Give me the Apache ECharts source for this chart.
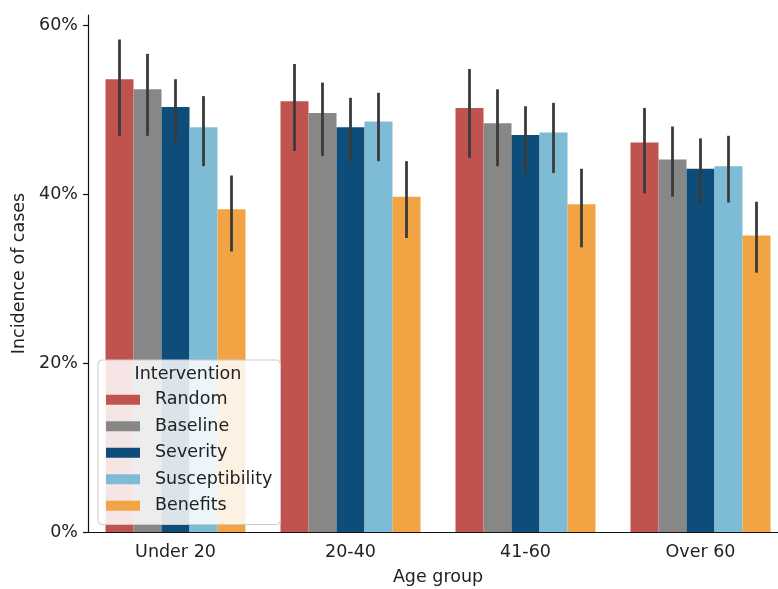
<!DOCTYPE html>
<html>
<head>
<meta charset="utf-8">
<script src="https://cdn.jsdelivr.net/npm/echarts@6/dist/echarts.min.js"></script>
<style>
  html, body { margin: 0; padding: 0; background: #fff; }
  #chart { width: 778px; height: 589px; }
</style>
</head>
<body>
<div id="chart"></div>
<script>
// Age groups on the x axis
const categories = ['Under 20', '20-40', '41-60', 'Over 60'];
// Intervention strategies (hue)
const interventions = ['Random', 'Baseline', 'Severity', 'Susceptibility', 'Benefits'];

// Mean incidence (%) per age group
const meanRandom = [53.6, 51.0, 50.2, 46.1];
const meanBaseline = [52.4, 49.6, 48.4, 44.1];
const meanSeverity = [50.3, 47.9, 47.0, 43.0];
const meanSusceptibility = [47.9, 48.6, 47.3, 43.3];
const meanBenefits = [38.2, 39.7, 38.8, 35.1];

// Confidence interval bounds (%)
const lowRandom = [46.9, 45.1, 44.3, 40.1];
const highRandom = [58.3, 55.4, 54.8, 50.2];
const lowBaseline = [46.9, 44.5, 43.3, 39.7];
const highBaseline = [56.6, 53.2, 52.4, 48.0];
const lowSeverity = [46.2, 43.8, 42.4, 38.8];
const highSeverity = [53.6, 51.4, 50.4, 46.6];
const lowSusceptibility = [43.3, 43.9, 42.5, 39.0];
const highSusceptibility = [51.6, 52.0, 50.8, 46.9];
const lowBenefits = [33.2, 34.8, 33.7, 30.7];
const highBenefits = [42.2, 43.9, 43.0, 39.1];

// Y axis tick values
const yTicks = [0, 20, 40, 60];

const colors = ['#c1534f', '#878787', '#0e4d79', '#7ebcd6', '#f2a444'];
const means = [meanRandom, meanBaseline, meanSeverity, meanSusceptibility, meanBenefits];
const lows = [lowRandom, lowBaseline, lowSeverity, lowSusceptibility, lowBenefits];
const highs = [highRandom, highBaseline, highSeverity, highSusceptibility, highBenefits];

const FONT = 'DejaVu Sans';
const FS = 17.5;

const barSeries = interventions.map((name, k) => ({
  name: name,
  type: 'bar',
  data: means[k],
  barGap: '0%',
  barCategoryGap: '20%',
  itemStyle: { color: colors[k] },
  z: 2
}));

// Vertical confidence-interval whiskers centred on each bar
const errSeries = interventions.map((name, k) => ({
  name: 'ci-' + name,
  type: 'custom',
  data: categories.map((c, i) => [i, lows[k][i], highs[k][i]]),
  encode: { x: 0, y: [1, 2] },
  z: 5,
  silent: true,
  renderItem: function (params, api) {
    const band = api.size([1, 0])[0];
    const offset = (k - 2) * band * 0.16;
    const p0 = api.coord([api.value(0), api.value(1)]);
    const p1 = api.coord([api.value(0), api.value(2)]);
    return {
      type: 'line',
      shape: { x1: p0[0] + offset, y1: p0[1], x2: p1[0] + offset, y2: p1[1] },
      style: { stroke: '#3a3a3a', lineWidth: 2.8 }
    };
  }
}));

const chart = echarts.init(document.getElementById('chart'), null, { renderer: 'canvas' });
chart.setOption({
  animation: false,
  backgroundColor: '#ffffff',
  textStyle: { fontFamily: FONT },
  grid: { left: 88, top: 15, width: 700, height: 517, containLabel: false, outerBoundsMode: 'none' },
  xAxis: {
    type: 'category',
    data: categories,
    name: 'Age group',
    nameLocation: 'middle',
    nameGap: 36,
    nameTextStyle: { fontFamily: FONT, fontSize: FS, color: '#222' },
    axisLine: { lineStyle: { color: '#111', width: 1.2 } },
    axisTick: { alignWithLabel: true, length: 5, lineStyle: { color: '#111', width: 1.2 } },
    axisLabel: { fontFamily: FONT, fontSize: FS, color: '#222', margin: 11 },
    splitLine: { show: false }
  },
  yAxis: {
    type: 'value',
    min: 0,
    max: 61.2,
    name: 'Incidence of cases',
    nameLocation: 'middle',
    nameGap: 60,
    nameRotate: 90,
    nameTextStyle: { fontFamily: FONT, fontSize: FS, color: '#222' },
    axisLine: { show: true, lineStyle: { color: '#111', width: 1.2 } },
    axisTick: { show: true, length: 5, customValues: yTicks, lineStyle: { color: '#111', width: 1.2 } },
    axisLabel: {
      fontFamily: FONT, fontSize: FS, color: '#222', margin: 10,
      customValues: yTicks,
      formatter: v => v + '%'
    },
    splitLine: { show: false }
  },
  legend: {
    data: interventions,
    orient: 'vertical',
    left: 98,
    top: 360,
    itemWidth: 34,
    itemHeight: 10,
    itemGap: 7,
    icon: 'rect',
    padding: [30, 8, 9, 8],
    backgroundColor: 'rgba(255,255,255,0.85)',
    borderColor: '#cccccc',
    borderWidth: 1,
    borderRadius: 4,
    textStyle: { fontFamily: FONT, fontSize: FS, color: '#222', lineHeight: 19.5, padding: [0, 0, 0, 10] },
    z: 10
  },
  graphic: [{
    type: 'text',
    x: 188,
    y: 374,
    z: 100,
    style: {
      text: 'Intervention',
      fontFamily: FONT,
      fontSize: FS,
      fill: '#222',
      align: 'center',
      verticalAlign: 'middle'
    }
  }],
  series: barSeries.concat(errSeries)
});
</script>
</body>
</html>
